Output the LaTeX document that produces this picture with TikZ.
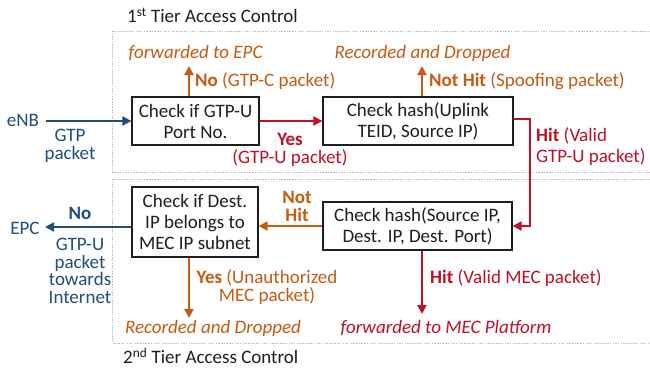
\documentclass[tikz,border=0pt]{standalone}
\usepackage{fontspec}
\setmainfont{Carlito}
\usetikzlibrary{arrows.meta}
\definecolor{ora}{RGB}{197,90,17}
\definecolor{rd}{RGB}{192,16,40}
\definecolor{bl}{RGB}{31,78,121}
\definecolor{txt}{RGB}{30,30,30}
\definecolor{dash}{RGB}{190,190,190}
\begin{document}
\begin{tikzpicture}[x=1pt,y=-1pt,
  box/.style={draw=txt, line width=1.2pt, fill=white, align=center, inner sep=0pt,
    font=\fontsize{19}{21}\selectfont, text=txt},
  arr/.style={line width=2pt, -{Triangle[length=9pt,width=9pt]}},
  lbl/.style={inner sep=0pt, align=center, font=\fontsize{19}{17.5}\selectfont},
  frame/.style={draw=dash, line width=0.8pt, dash pattern=on 1.5pt off 1.2pt}]
\useasboundingbox (0,0) rectangle (650,369);
% tier frames
\draw[frame] (650,31) -- (112.5,31) -- (112.5,172) -- (650,172);
\draw[frame] (650,179) -- (112.5,179) -- (112.5,343) -- (650,343);
\node[lbl, text=txt, anchor=west] (t1) at (127,15.5) {1\textsuperscript{st} Tier Access Control};
\node[lbl, text=txt, anchor=west] (t2) at (123,356) {2\textsuperscript{nd} Tier Access Control};
% boxes
\node[box, minimum width=127pt, minimum height=48pt] (A) at (195.5,121) {Check if GTP-U\\Port No.};
\node[box, minimum width=190pt, minimum height=48pt] (B) at (418,121) {Check hash(Uplink\\TEID, Source IP)};
\node[box, minimum width=126pt, minimum height=70pt] (C) at (195,222) {Check if Dest.\\IP belongs to\\MEC IP subnet};
\node[box, minimum width=189pt, minimum height=48pt] (D) at (417.5,226) {Check hash(Source IP,\\Dest. IP, Dest. Port)};
% end points
\coordinate (enb) at (46,121);
\coordinate (epc) at (45,227);
\coordinate (upA) at (189,66);
\coordinate (upB) at (422,66);
\coordinate (dnC) at (189,318);
\coordinate (dnD) at (422,314);
\coordinate (bend) at (530,119);
% left texts
\node[lbl, text=bl] (eNB) at (23,120) {eNB};
\node[lbl, text=bl] (gtp) at (70,146) {GTP\\packet};
\node[lbl, text=bl] (EPC) at (25,228) {EPC};
\node[lbl, text=bl, font=\bfseries\fontsize{19}{17.5}\selectfont] (no2) at (80,213) {No};
\node[lbl, text=bl] (inet) at (80,271) {GTP-U\\packet\\towards\\Internet};
% arrows
\draw[arr, bl] (enb) -- (A.west);
\draw[arr, bl] (C.west |- epc) -- (epc);
\draw[arr, rd] (A.east) -- (B.west);
\draw[arr, ora] (A.north -| upA) -- (upA);
\draw[arr, ora] (B.north -| upB) -- (upB);
\draw[arr, rd] (B.east |- bend) -- (bend) -- (bend |- D.east) -- (D.east);
\draw[arr, ora] (D.west) -- (C.east |- D.west);
\draw[arr, ora] (C.south -| dnC) -- (dnC);
\draw[arr, rd] (D.south -| dnD) -- (dnD);
% labels tier 1
\node[lbl, text=ora, font=\itshape\fontsize{19}{17.5}\selectfont] (fEPC) at (195.5,53) {forwarded to EPC};
\node[lbl, text=ora, anchor=west] (noC) at (195,81) {\textbf{No} (GTP-C packet)};
\node[lbl, text=ora, font=\itshape\fontsize{19}{17.5}\selectfont] (rd1) at (422.5,53) {Recorded and Dropped};
\node[lbl, text=ora, anchor=west] (nh1) at (429,81) {\textbf{Not Hit} (Spoofing packet)};
\node[lbl, text=rd, font=\fontsize{19}{18.5}\selectfont] (yes1) at (290,150) {\textbf{Yes}\\(GTP-U packet)};
\node[lbl, text=rd, align=left, anchor=west, font=\fontsize{19}{21}\selectfont] (hit1) at (536,147) {\textbf{Hit} (Valid\\GTP-U packet)};
% labels tier 2
\node[lbl, text=ora, font=\bfseries\fontsize{19}{18}\selectfont] (nh2) at (297,206) {Not\\Hit};
\node[lbl, text=ora] (yes2) at (267,287) {\textbf{Yes} (Unauthorized\\MEC packet)};
\node[lbl, text=ora, font=\itshape\fontsize{19}{17.5}\selectfont] (rd2) at (213,328) {Recorded and Dropped};
\node[lbl, text=rd, anchor=west] (hit2) at (430,278) {\textbf{Hit} (Valid MEC packet)};
\node[lbl, text=rd, font=\itshape\fontsize{19}{17.5}\selectfont] (fMEC) at (446,328) {forwarded to MEC Platform};
\end{tikzpicture}
\end{document}
